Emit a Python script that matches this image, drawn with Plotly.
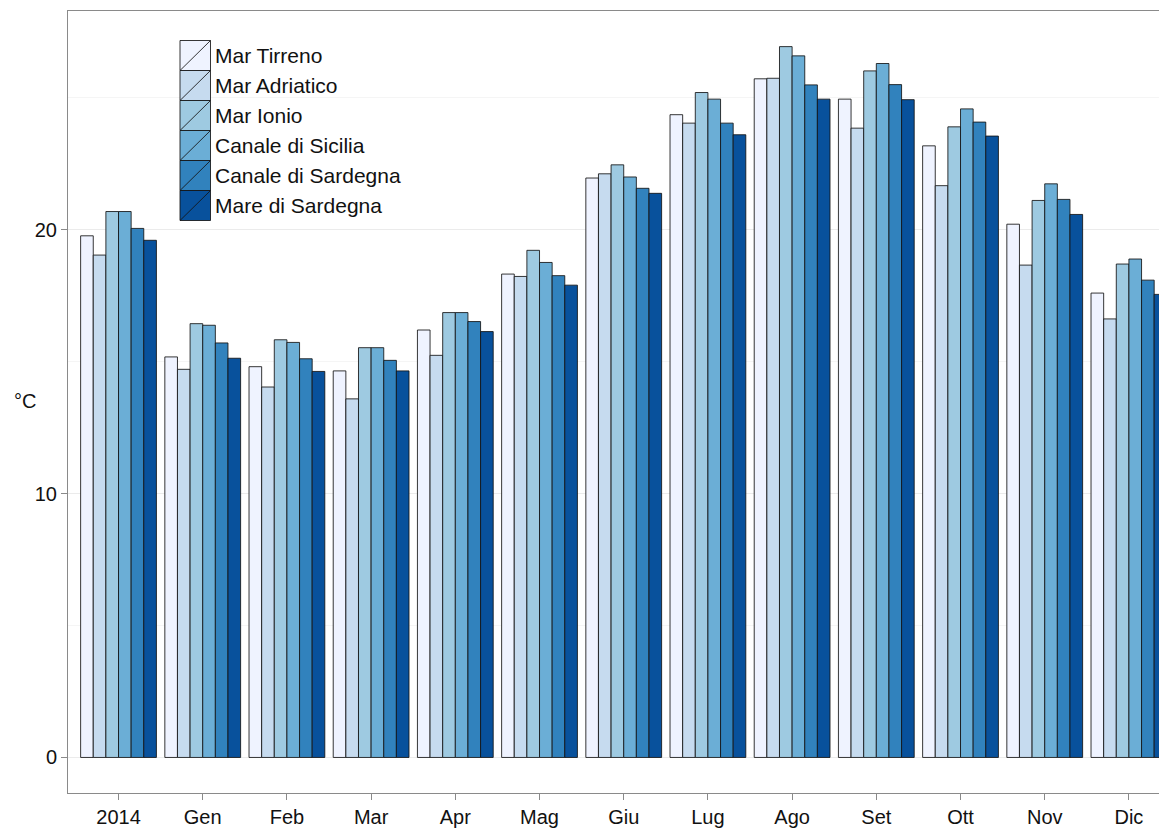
import plotly.graph_objects as go

# Temperature medie mensili del mare (°C)
periods = ["2014", "Gen", "Feb", "Mar", "Apr", "Mag", "Giu",
           "Lug", "Ago", "Set", "Ott", "Nov", "Dic"]

seas = ["Mar Tirreno", "Mar Adriatico", "Mar Ionio",
        "Canale di Sicilia", "Canale di Sardegna", "Mare di Sardegna"]

mar_tirreno = [19.77, 15.18, 14.81, 14.65, 16.20, 18.32, 21.96,
               24.36, 25.72, 24.95, 23.18, 20.21, 17.60]
mar_adriatico = [19.04, 14.71, 14.04, 13.59, 15.24, 18.23, 22.12,
                 24.04, 25.74, 23.85, 21.67, 18.66, 16.62]
mar_ionio = [20.69, 16.44, 15.83, 15.53, 16.86, 19.22, 22.46,
             25.20, 26.94, 26.02, 23.90, 21.11, 18.70]
canale_sicilia = [20.69, 16.38, 15.73, 15.53, 16.86, 18.76, 22.00,
                  24.95, 26.59, 26.30, 24.58, 21.74, 18.89]
canale_sardegna = [20.05, 15.71, 15.11, 15.05, 16.52, 18.26, 21.57,
                   24.04, 25.49, 25.50, 24.08, 21.15, 18.09]
mare_sardegna = [19.60, 15.13, 14.63, 14.65, 16.14, 17.90, 21.38,
                 23.60, 24.95, 24.93, 23.55, 20.58, 17.55]

series = [mar_tirreno, mar_adriatico, mar_ionio,
          canale_sicilia, canale_sardegna, mare_sardegna]

colors = ["#eff3ff", "#c6dbef", "#9ecae1", "#6baed6", "#3182bd", "#08519c"]

FONT = "Liberation Sans, Arial, sans-serif"
# the page body has an 8px margin, so the figure is sized/offset to fit the window
OFF = 8
W, H = 1167 - OFF, 828 - OFF
L, T, B, R = 60, 3, 35, 0
pw, ph = W - L - R, H - T - B

fig = go.Figure()

for name, vals, col in zip(seas, series, colors):
    fig.add_trace(go.Bar(
        x=list(range(len(periods))),
        y=vals,
        name=name,
        marker=dict(color=col, line=dict(color="rgba(20,20,20,0.85)", width=1)),
        showlegend=False,
    ))


# page pixel -> paper coords
def px_x(px):
    return (px - OFF - L) / pw


def px_y(py):
    return (H - B - (py - OFF)) / ph


# legend drawn by hand, ggplot style keys with diagonal
key_left, key_right, key_top, key_h = 180, 210.5, 40.5, 30
for i, (name, col) in enumerate(zip(seas, colors)):
    top = key_top + i * key_h
    bot = top + key_h
    fig.add_shape(type="rect", xref="paper", yref="paper",
                  x0=px_x(key_left), x1=px_x(key_right),
                  y0=px_y(bot), y1=px_y(top),
                  fillcolor=col, line=dict(color="rgba(20,20,20,0.85)", width=1))
    fig.add_shape(type="line", xref="paper", yref="paper",
                  x0=px_x(key_left), x1=px_x(key_right),
                  y0=px_y(bot), y1=px_y(top),
                  line=dict(color="rgba(20,20,20,0.85)", width=1))
    fig.add_annotation(xref="paper", yref="paper",
                       x=px_x(key_right + 2), y=px_y(top + key_h / 2),
                       xanchor="left", yanchor="middle", showarrow=False,
                       text=name, font=dict(family=FONT, size=21, color="#111111"))

# y axis label, horizontal as in the original
fig.add_annotation(xref="paper", yref="paper", x=px_x(25), y=px_y(401),
                   xanchor="center", yanchor="middle", showarrow=False,
                   text="°C", font=dict(family=FONT, size=20, color="#111111"))

fig.update_layout(
    width=W, height=H,
    margin=dict(l=L, r=R, t=T, b=B, pad=0),
    paper_bgcolor="white",
    plot_bgcolor="white",
    barmode="group",
    bargap=0.1,
    bargroupgap=0,
    showlegend=False,
    font=dict(family=FONT, size=20, color="#111111"),
)

fig.update_xaxes(
    range=[-0.6, -0.6 + pw / 84.2],
    tickmode="array",
    tickvals=list(range(len(periods))),
    ticktext=periods,
    showgrid=False,
    zeroline=False,
    showline=True,
    linecolor="#8a8a8a",
    linewidth=1,
    mirror=True,
    ticks="outside",
    ticklen=6,
    tickcolor="#8a8a8a",
    tickfont=dict(family=FONT, size=20, color="#111111"),
    automargin=False,
)

fig.update_yaxes(
    range=[-1.347, 28.29],
    tickvals=[0, 10, 20],
    showgrid=True,
    gridcolor="#ebebeb",
    gridwidth=1,
    minor=dict(showgrid=True, tickvals=[5, 15, 25], gridcolor="#f5f5f5", gridwidth=1),
    zeroline=False,
    showline=True,
    linecolor="#8a8a8a",
    linewidth=1,
    ticks="outside",
    ticklen=6,
    tickcolor="#8a8a8a",
    tickfont=dict(family=FONT, size=20, color="#111111"),
    automargin=False,
)

fig.write_html("out.html")
